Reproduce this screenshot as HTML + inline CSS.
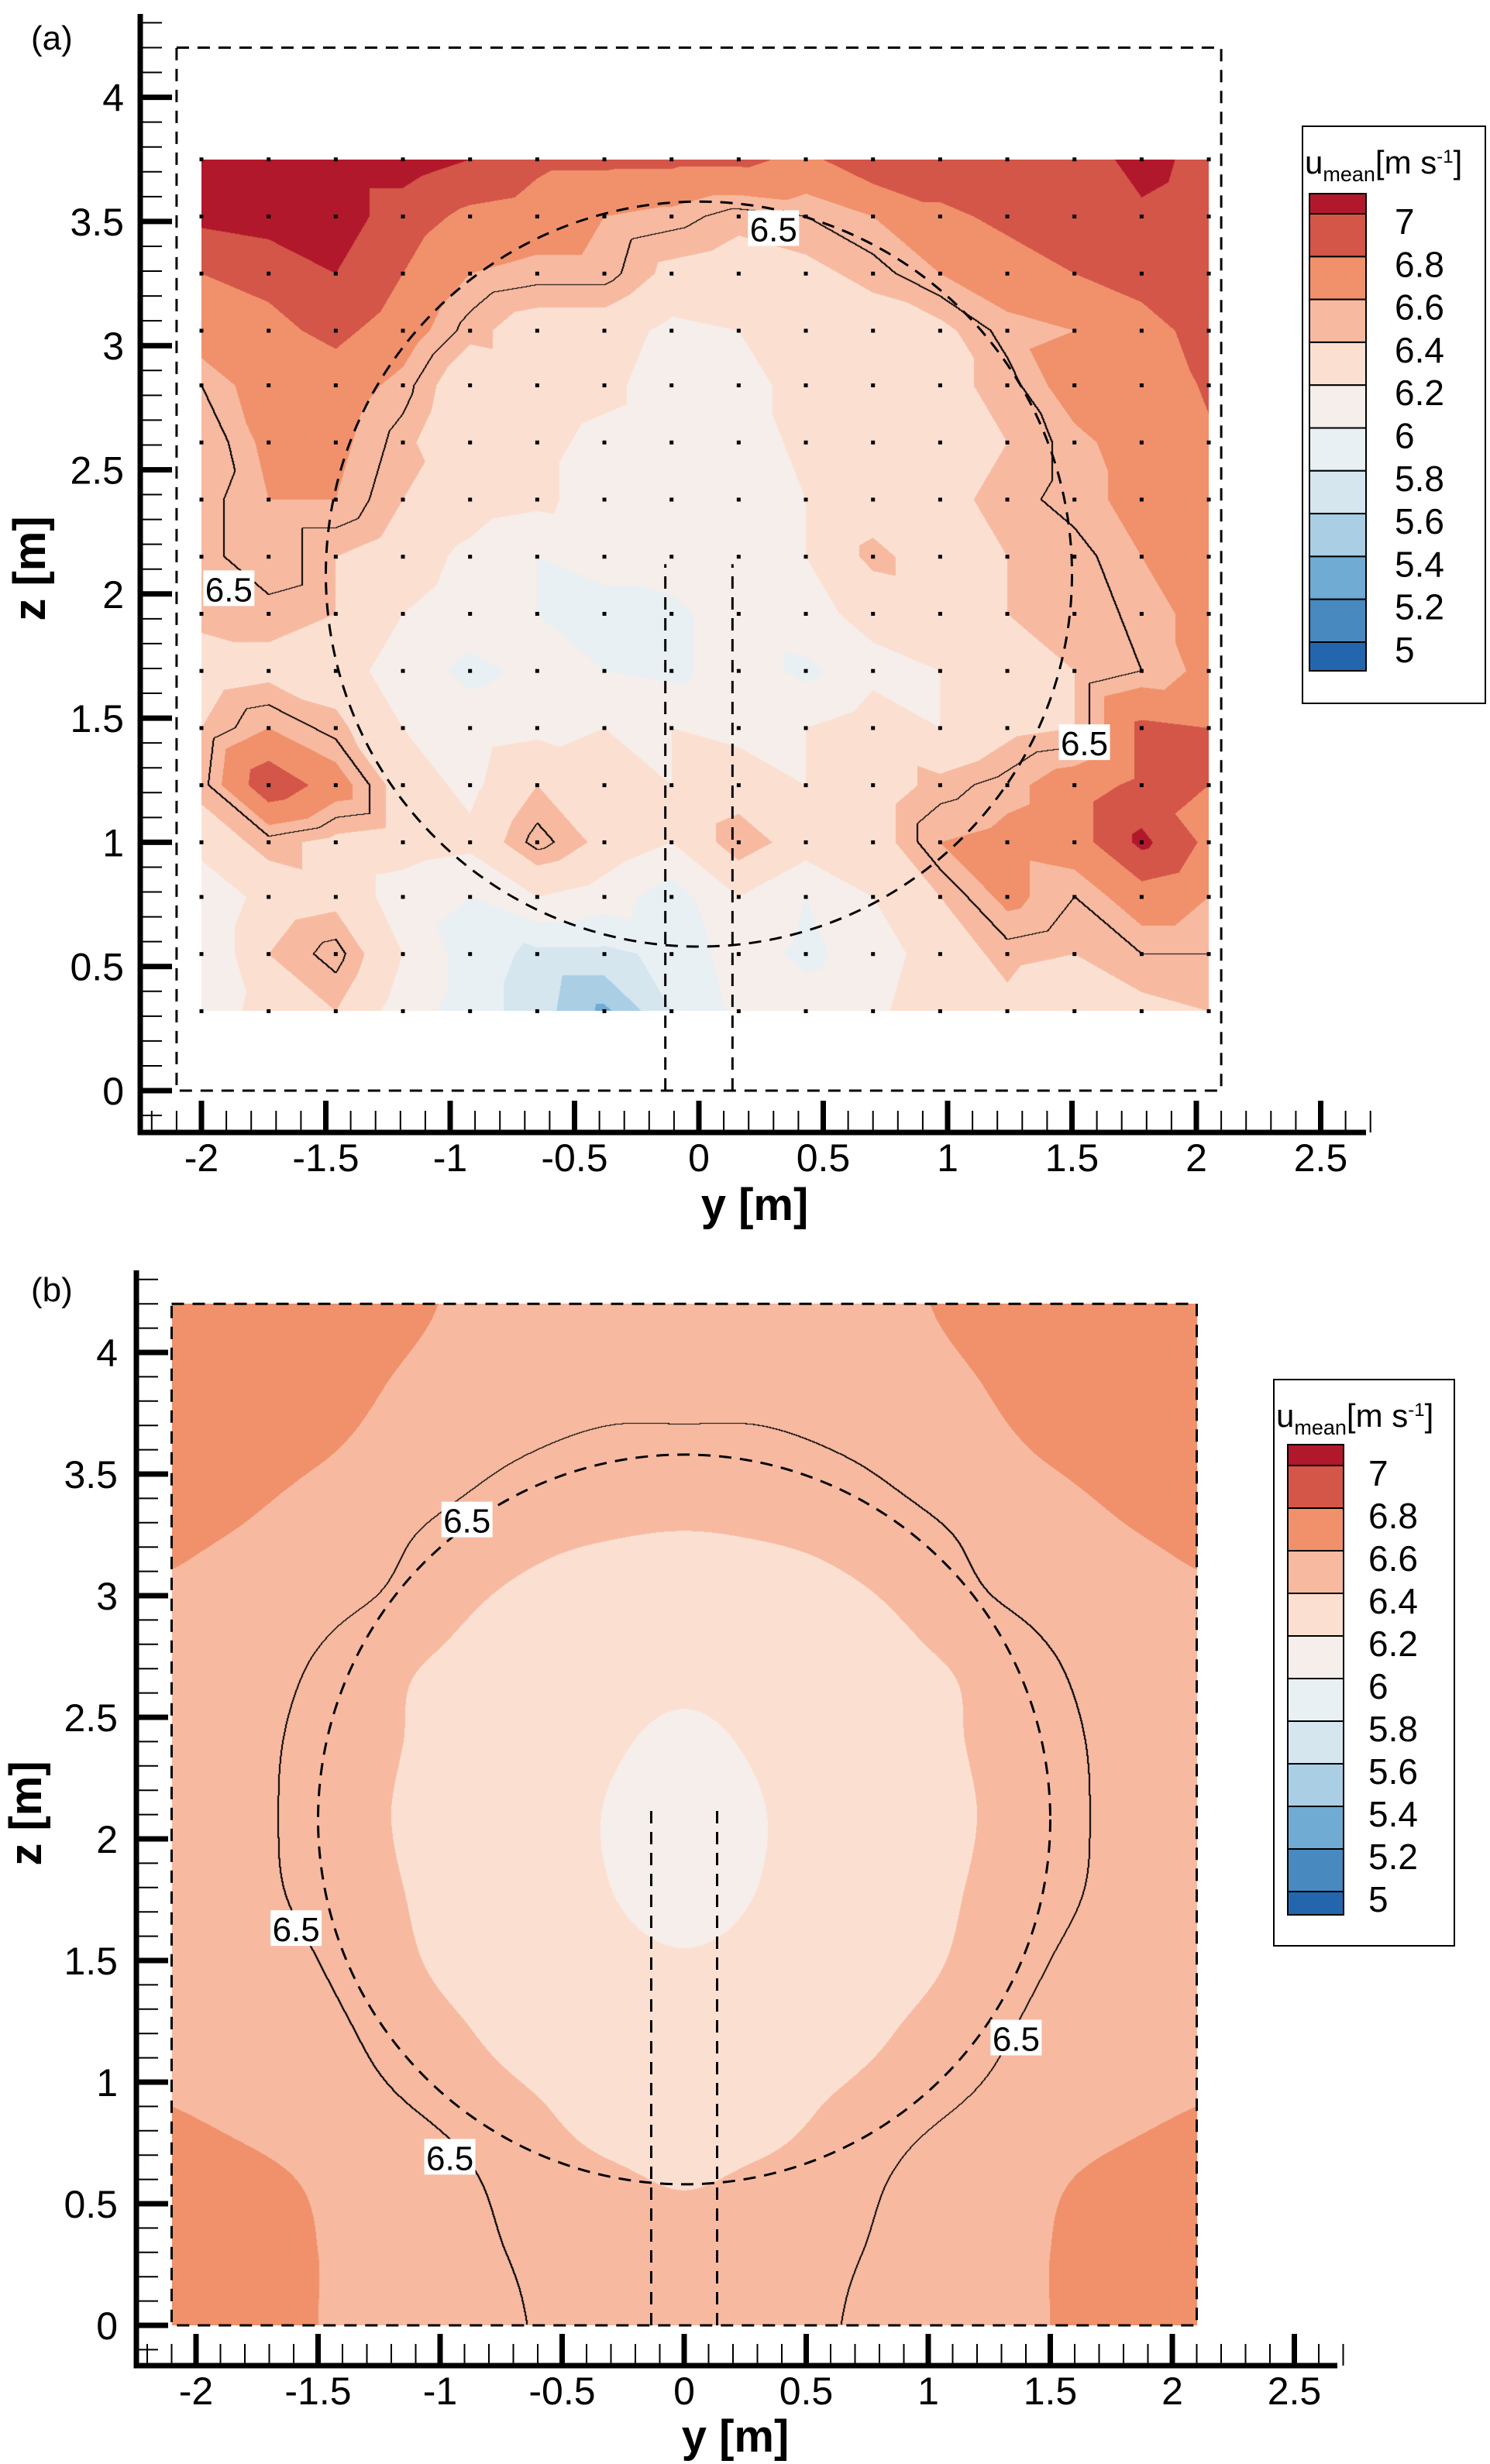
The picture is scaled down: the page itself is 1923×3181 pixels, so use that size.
<!DOCTYPE html>
<html><head><meta charset="utf-8">
<style>
html,body{margin:0;padding:0;background:#fff;}
#wrap{position:relative;width:1923px;height:3181px;overflow:hidden;font-family:"Liberation Sans",sans-serif;}
canvas{position:absolute;}
svg{position:absolute;left:0;top:0;}
</style></head>
<body>
<div id="wrap">
<canvas id="cA"></canvas>
<canvas id="cB"></canvas>
<svg id="sv" width="1923" height="3181" xmlns="http://www.w3.org/2000/svg"></svg>
</div>
<script>
// ---------- data ----------
const levels = [5,5.2,5.4,5.6,5.8,6,6.2,6.4,6.6,6.8,7];
const levelLabels = ["7","6.8","6.6","6.4","6.2","6","5.8","5.6","5.4","5.2","5"];
const levelColors = ["#2466ad","#4889c0","#6fabd3","#aacfe5","#d5e6ef","#e9f0f3","#f6eeea","#fbe0d2","#f7baa0","#f0916b","#d35649","#b2182b"];
const contourLevel = 6.5;
// panel a: measured grid
const aYs = [-2,-1.73,-1.46,-1.19,-0.92,-0.65,-0.38,-0.11,0.16,0.43,0.70,0.97,1.24,1.51,1.78,2.05];
const aZs = [3.75,3.52,3.29,3.06,2.84,2.61,2.38,2.15,1.92,1.69,1.46,1.23,1.00,0.78,0.55,0.32];
const aU = [
[7.1,7.1,7.1,7.1,7.0,6.85,6.85,6.85,6.85,6.75,6.95,6.95,6.9,6.85,7.1,6.9],
[7.05,7.1,7.1,6.9,6.75,6.7,6.6,6.55,6.45,6.5,6.6,6.75,6.85,6.9,6.95,6.85],
[6.8,6.85,7.0,6.8,6.6,6.55,6.55,6.35,6.3,6.35,6.45,6.6,6.7,6.8,6.85,6.9],
[6.7,6.75,6.85,6.7,6.45,6.3,6.3,6.15,6.2,6.25,6.3,6.35,6.55,6.6,6.75,6.85],
[6.5,6.7,6.7,6.55,6.25,6.3,6.25,6.1,6.15,6.25,6.3,6.35,6.45,6.7,6.7,6.82],
[6.4,6.65,6.65,6.45,6.2,6.25,6.15,6.1,6.1,6.25,6.3,6.3,6.4,6.55,6.7,6.78],
[6.45,6.6,6.6,6.4,6.3,6.25,6.1,6.1,6.15,6.2,6.3,6.35,6.45,6.55,6.65,6.75],
[6.45,6.6,6.4,6.3,6.15,6.0,6.05,6.1,6.2,6.2,6.45,6.3,6.4,6.45,6.6,6.7],
[6.45,6.45,6.4,6.2,6.1,6.0,5.95,5.95,6.1,6.15,6.25,6.3,6.4,6.4,6.55,6.65],
[6.3,6.35,6.3,6.1,5.95,6.05,6.0,5.95,6.1,5.95,6.15,6.2,6.35,6.4,6.5,6.65],
[6.4,6.6,6.45,6.2,6.1,6.15,6.2,6.2,6.15,6.2,6.3,6.2,6.35,6.4,6.85,6.8],
[6.45,6.95,6.7,6.3,6.15,6.4,6.3,6.2,6.3,6.2,6.3,6.45,6.55,6.7,6.85,6.8],
[6.3,6.45,6.35,6.3,6.25,6.55,6.35,6.2,6.5,6.3,6.3,6.6,6.65,6.7,7.05,6.75],
[6.0,6.3,6.35,6.1,6.0,6.2,6.1,5.9,6.2,6.0,6.2,6.4,6.65,6.5,6.7,6.6],
[6.0,6.4,6.55,6.2,5.9,5.75,5.75,5.85,6.1,5.95,6.1,6.3,6.45,6.4,6.5,6.5],
[6.05,6.3,6.4,6.1,5.9,5.7,5.35,5.8,6.05,6.1,6.15,6.35,6.35,6.2,6.35,6.4]];
// panel b: model grid (rows bottom z=0 to top z=4.2)
const bYs = [-2.1,-1.8,-1.5,-1.2,-0.9,-0.6,-0.3,0,0.3,0.6,0.9,1.2,1.5,1.8,2.1];
const bZs = [0,0.3,0.6,0.9,1.2,1.5,1.8,2.1,2.4,2.7,3.0,3.3,3.6,3.9,4.2];
const bU = [
[6.67,6.65,6.60,6.57,6.53,6.495,6.46,6.45,6.46,6.495,6.53,6.57,6.60,6.65,6.67],
[6.66,6.64,6.60,6.56,6.52,6.485,6.45,6.44,6.45,6.485,6.52,6.56,6.60,6.64,6.66],
[6.64,6.62,6.59,6.55,6.51,6.46,6.42,6.39,6.42,6.46,6.51,6.55,6.59,6.62,6.64],
[6.60,6.58,6.55,6.51,6.47,6.41,6.33,6.30,6.33,6.41,6.47,6.51,6.55,6.58,6.60],
[6.59,6.57,6.53,6.47,6.41,6.33,6.27,6.24,6.27,6.33,6.41,6.47,6.53,6.57,6.59],
[6.58,6.55,6.50,6.43,6.36,6.30,6.24,6.21,6.24,6.30,6.36,6.43,6.50,6.55,6.58],
[6.56,6.53,6.47,6.41,6.35,6.28,6.20,6.14,6.20,6.28,6.35,6.41,6.47,6.53,6.56],
[6.56,6.53,6.46,6.40,6.34,6.27,6.19,6.12,6.19,6.27,6.34,6.40,6.46,6.53,6.56],
[6.57,6.53,6.47,6.41,6.35,6.29,6.22,6.17,6.22,6.29,6.35,6.41,6.47,6.53,6.57],
[6.57,6.54,6.49,6.42,6.37,6.31,6.27,6.24,6.27,6.31,6.37,6.42,6.49,6.54,6.57],
[6.59,6.56,6.53,6.49,6.42,6.37,6.33,6.31,6.33,6.37,6.42,6.49,6.53,6.56,6.59],
[6.62,6.60,6.56,6.52,6.48,6.44,6.42,6.41,6.42,6.44,6.48,6.52,6.56,6.60,6.62],
[6.65,6.64,6.61,6.57,6.53,6.50,6.48,6.48,6.48,6.50,6.53,6.57,6.61,6.64,6.65],
[6.67,6.66,6.64,6.60,6.57,6.55,6.535,6.53,6.535,6.55,6.57,6.60,6.64,6.66,6.67],
[6.68,6.67,6.65,6.62,6.59,6.57,6.555,6.55,6.555,6.57,6.59,6.62,6.65,6.67,6.68]];
const xTickVals = [-2,-1.5,-1,-0.5,0,0.5,1,1.5,2,2.5];
const xTickLabels = ["-2","-1.5","-1","-0.5","0","0.5","1","1.5","2","2.5"];
const zTickVals = [0,0.5,1,1.5,2,2.5,3,3.5,4];
const zTickLabels = ["0","0.5","1","1.5","2","2.5","3","3.5","4"];
const rotorCenter = [0,2.08];
const rotorRadius = [1.5];
const towerHalfWidth = [0.135];
const towerTop = [2.12];
const labelsA = [[0.30,3.47],[-1.89,2.02],[1.55,1.40]];
const labelsB = [[-0.89,3.31],[-1.59,1.63],[1.36,1.18],[-0.96,0.69]];

// ---------- layout ----------
const PA = {name:'a', x0:902, sx:321, z0:1408, sz:320.6, axL:181, axB:1462, axT:18, axR:1763, yMin:-2.25, yMax:2.65, zMin:-0.15, zMax:4.3,
  leg:{bx:1681,by:163,bw:236,bh:745,cx:1690,cw:73,top:250,first:276,step:55.3,bot:866,lx:1800,ty:224}, tag:[40,64], lab:'(a)',
  yTitle:[974,1575], zTitle:[38,734], zLabX:160};
const PB = {name:'b', x0:883, sx:315, z0:3002, sz:314, axL:176, axB:3054, axT:1640, axR:1726, yMin:-2.25, yMax:2.65, zMin:-0.15, zMax:4.3,
  leg:{bx:1644,by:1781,bw:233,bh:731,cx:1662,cw:72,top:1865,first:1892,step:55,bot:2472,lx:1766,ty:1842}, tag:[40,1680], lab:'(b)',
  yTitle:[949,3165], zTitle:[33,2341], zLabX:152};

const NS='http://www.w3.org/2000/svg';
const sv=document.getElementById('sv');
function mk(tag,attrs,parent){const e=document.createElementNS(NS,tag);for(const k in attrs)e.setAttribute(k,attrs[k]);(parent||sv).appendChild(e);return e;}
function hex(c){return [parseInt(c.substr(1,2),16),parseInt(c.substr(3,2),16),parseInt(c.substr(5,2),16)];}
const rgbLevels=levelColors.map(hex);
function idxFor(v){let i=0;while(i<levels.length&&v>=levels[i])i++;return i;}

function paintField(cv,P,y0,y1,z0,z1,fn){
  const L=Math.round(P.x0+P.sx*y0),R=Math.round(P.x0+P.sx*y1),T=Math.round(P.z0-P.sz*z1),B=Math.round(P.z0-P.sz*z0);
  const W=R-L,H=B-T;
  cv.width=W;cv.height=H;cv.style.left=L+'px';cv.style.top=T+'px';
  const ctx=cv.getContext('2d');const img=ctx.createImageData(W,H);const d=img.data;
  const f=new Float32Array(W*H);
  for(let py=0;py<H;py++){const z=(P.z0-(T+py+0.5))/P.sz;
    for(let px=0;px<W;px++){const y=(L+px+0.5-P.x0)/P.sx;f[py*W+px]=fn(y,z);}}
  for(let p=0;p<W*H;p++){const c=rgbLevels[idxFor(f[p])];d[p*4]=c[0];d[p*4+1]=c[1];d[p*4+2]=c[2];d[p*4+3]=255;}
  for(let py=0;py<H-1;py++)for(let px=0;px<W-1;px++){const p=py*W+px;const s=f[p]>=contourLevel;
    if(s!==(f[p+1]>=contourLevel)||s!==(f[p+W]>=contourLevel)){for(const q of [p,p+1]){d[q*4]=0;d[q*4+1]=0;d[q*4+2]=0;}}}
  ctx.putImageData(img,0,0);
}
function findIdx(arr,v,desc){const n=arr.length;for(let i=0;i<n-1;i++){const a=arr[i],b=arr[i+1];if(desc?(v<=a&&v>=b):(v>=a&&v<=b))return i;}return desc?(v>arr[0]?0:n-2):(v<arr[0]?0:n-2);}
function fieldA(y,z){
  const i=findIdx(aYs,y,false), j=findIdx(aZs,z,true);
  let u=(y-aYs[i])/(aYs[i+1]-aYs[i]); let v=(aZs[j]-z)/(aZs[j]-aZs[j+1]);
  u=Math.max(0,Math.min(1,u));v=Math.max(0,Math.min(1,v));
  const a=aU[j][i],b=aU[j][i+1],c=aU[j+1][i],dd=aU[j+1][i+1];
  if(u>=v) return a+(b-a)*u+(dd-b)*v; else return a+(c-a)*v+(dd-c)*u;
}
function cr(p0,p1,p2,p3,t){return 0.5*(2*p1+(-p0+p2)*t+(2*p0-5*p1+4*p2-p3)*t*t+(-p0+3*p1-3*p2+p3)*t*t*t);}
function fieldB(y,z){
  const i=findIdx(bYs,y,false), j=findIdx(bZs,z,false);
  const u=Math.max(0,Math.min(1,(y-bYs[i])/(bYs[i+1]-bYs[i]))), v=Math.max(0,Math.min(1,(z-bZs[j])/(bZs[j+1]-bZs[j])));
  const ci=k=>Math.max(0,Math.min(bYs.length-1,k)), cj=k=>Math.max(0,Math.min(bZs.length-1,k));
  const rows=[];for(let m=-1;m<=2;m++){const r=bU[cj(j+m)];rows.push(cr(r[ci(i-1)],r[ci(i)],r[ci(i+1)],r[ci(i+2)],u));}
  return cr(rows[0],rows[1],rows[2],rows[3],v);
}
paintField(document.getElementById('cA'),PA,-2,2.05,0.32,3.75,fieldA);
paintField(document.getElementById('cB'),PB,-2.1,2.1,0,4.2,fieldB);

function drawPanel(P){
  const X=y=>P.x0+P.sx*y, Z=z=>P.z0-P.sz*z;
  const g=mk('g',{});
  
  
  const dash={'stroke':'#000','stroke-width':3,'stroke-dasharray':'16 11','fill':'none'};
  const rect=mk('rect',Object.assign({x:X(-2.1),y:Z(4.2),width:X(2.1)-X(-2.1),height:Z(0)-Z(4.2)},dash),g);
  
  
  for(const s of [-1,1]){const l=mk('line',Object.assign({x1:X(s*towerHalfWidth[0]),x2:X(s*towerHalfWidth[0]),y1:Z(0),y2:Z(towerTop[0])},dash),g);
    
    }
  const c=mk('ellipse',Object.assign({cx:X(rotorCenter[0]),cy:Z(rotorCenter[1]),rx:rotorRadius[0]*P.sx,ry:rotorRadius[0]*P.sz},dash),g);
  
  
  const ax=mk('path',{d:`M${P.axL},${P.axT} L${P.axL},${P.axB} L${P.axR},${P.axB}`,stroke:'#000','stroke-width':7,fill:'none'},g);
  
  
  for(let k=Math.round(P.yMin*10);k<=Math.round(P.yMax*10);k++){const v=k/10;const maj=k%5===0;
    const t=mk('line',{x1:X(v),x2:X(v),y1:P.axB,y2:P.axB-(maj?41:28),stroke:'#000','stroke-width':maj?7:2},g);
    
    }
  for(let k=Math.round(P.zMin*10);k<=Math.round(P.zMax*10);k++){const v=k/10;const maj=k%5===0;
    const t=mk('line',{y1:Z(v),y2:Z(v),x1:P.axL,x2:P.axL+(maj?41:28),stroke:'#000','stroke-width':maj?7:2},g);
    
    }
  xTickVals.forEach((v,i)=>{const t=mk('text',{x:X(v),y:P.axB+50,'text-anchor':'middle','font-size':50},g);t.textContent=xTickLabels[i];
    
    });
  zTickVals.forEach((v,i)=>{const t=mk('text',{x:P.zLabX,y:Z(v)+18,'text-anchor':'end','font-size':50},g);t.textContent=zTickLabels[i];
    
    });
  const yt=mk('text',{x:P.yTitle[0],y:P.yTitle[1],'text-anchor':'middle','font-size':58,'font-weight':'bold'},g);yt.textContent='y [m]';
  
  
  const zt=mk('text',{x:0,y:0,'text-anchor':'middle','font-size':58,'font-weight':'bold',transform:`translate(${P.zTitle[0]+20},${P.zTitle[1]}) rotate(-90)`},g);zt.textContent='z [m]';
  
  
  const tg=mk('text',{x:P.tag[0],y:P.tag[1],'font-size':44},g);tg.textContent=P.lab;
  
  
  const L=P.leg;
  const lg=mk('g',{},g);
  
  
  mk('rect',{x:L.bx,y:L.by,width:L.bw,height:L.bh,fill:'#fff',stroke:'#000','stroke-width':2},lg);
  const tt=mk('text',{x:L.bx+3,y:L.ty,'font-size':42},lg);
  
  
  tt.innerHTML='u<tspan font-size="27" dy="10">mean</tspan><tspan dy="-10">[m s</tspan><tspan font-size="24" dy="-14">-1</tspan><tspan dy="14">]</tspan>';
  const bounds=[L.top];for(let i=0;i<levels.length;i++)bounds.push(L.first+i*L.step);bounds.push(L.bot);
  for(let i=0;i<levelColors.length;i++){const col=levelColors[levelColors.length-1-i];
    const r=mk('rect',{x:L.cx,y:bounds[i],width:L.cw,height:bounds[i+1]-bounds[i],fill:col,stroke:'#000','stroke-width':2},lg);
    
    }
  levelLabels.forEach((s,i)=>{const t=mk('text',{x:L.lx,y:bounds[i+1]+26,'font-size':46},lg);t.textContent=s;
    
    });
}
drawPanel(PA);drawPanel(PB);

aZs.forEach(z=>aYs.forEach(y=>{const r=mk('rect',{x:PA.x0+PA.sx*y-2.5,y:PA.z0-PA.sz*z-2.5,width:5,height:5,fill:'#000'});
  
  }));
function cLabel(P,pos){const x=P.x0+P.sx*pos[0],y=P.z0-P.sz*pos[1];
  const g=mk('g',{});
  
  
  mk('rect',{x:x-33,y:y-24,width:66,height:46,fill:'#fff'},g);
  const t=mk('text',{x:x,y:y+16,'text-anchor':'middle','font-size':44},g);t.textContent='6.5';}
labelsA.forEach(p=>cLabel(PA,p));
labelsB.forEach(p=>cLabel(PB,p));
</script>
</body></html>
